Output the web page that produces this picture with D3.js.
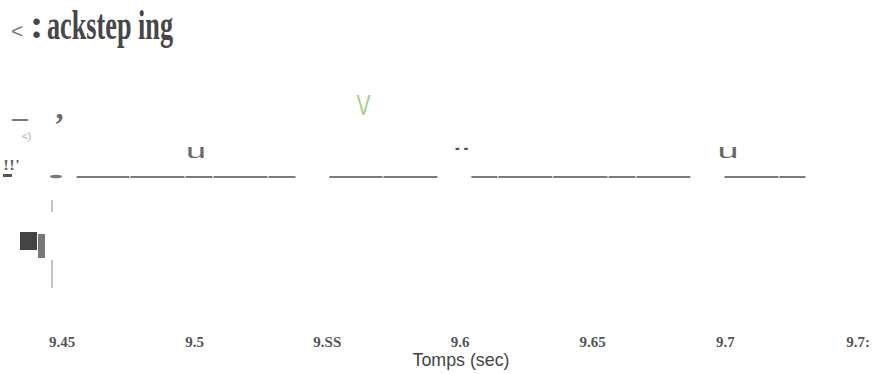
<!DOCTYPE html>
<html>
<head>
<meta charset="utf-8">
<script src="https://cdn.jsdelivr.net/npm/d3@7/dist/d3.min.js"></script>
<style>
  html, body { margin: 0; padding: 0; background: #fff; }
  svg { display: block; }
</style>
</head>
<body>
<svg id="chart" width="874" height="374"></svg>
<script>
// Time ticks along the bottom axis (seconds) and their printed labels
const tickValues = [9.45, 9.5, 9.55, 9.6, 9.65, 9.7, 9.75];
const tickLabels = ["9.45", "9.5", "9.SS", "9.6", "9.65", "9.7", "9.7:"];

// Signal trace: runs of constant level, each run split into short pieces
const traceRuns = [
  [9.4553, 9.4756, 9.4964, 9.5069, 9.5276, 9.5382],
  [9.5506, 9.5710, 9.5917],
  [9.6041, 9.6143, 9.6350, 9.6558, 9.6663, 9.6870],
  [9.6995, 9.7202, 9.7304]
];
const traceLevel = 0.5;

// Short vertical axis pieces (level ranges)
const axisPieces = [[0.358, 0.407], [0.049, 0.163]];

// Glyph annotations above the trace: [time, level, text, colour, size, width]
const marks = [
  [9.5005, 0.577, "u", "#6a6a6a", 20, 20],
  [9.6008, 0.551, "\u00a8", "#555", 24, 15],
  [9.7010, 0.577, "u", "#6a6a6a", 20, 21],
  [9.5636, 0.752, "V", "#9fd487", 30, 14]
];

const svg = d3.select("#chart");
const x = d3.scaleLinear().domain([9.45, 9.75]).range([62, 858]);
const y = d3.scaleLinear().domain([0, 1]).range([300, 54]);

// Title
svg.append("text").attr("x", 11).attr("y", 38)
  .attr("font-family", "Liberation Sans, Arial, sans-serif")
  .attr("font-size", 21).attr("fill", "#777").text("<");
svg.append("text").attr("x", 30).attr("y", 38)
  .attr("font-family", "Liberation Serif, serif").attr("font-weight", "bold")
  .attr("font-size", 40).attr("fill", "#474747").text(":");
svg.append("text")
  .attr("x", 47).attr("y", 39)
  .attr("font-family", "Liberation Serif, serif").attr("font-weight", "bold")
  .attr("font-size", 43).attr("fill", "#474747")
  .attr("textLength", 126).attr("lengthAdjust", "spacingAndGlyphs")
  .text("ackstep ing");

// Trace pieces
const pieces = [];
traceRuns.forEach(run => {
  for (let i = 0; i < run.length - 1; i++) pieces.push([run[i], run[i + 1]]);
});
svg.append("g").selectAll("line").data(pieces).join("line")
  .attr("x1", d => x(d[0]) + 0.5).attr("x2", d => x(d[1]) - 0.5)
  .attr("y1", y(traceLevel)).attr("y2", y(traceLevel))
  .attr("stroke", "#7a7a7a").attr("stroke-width", 2);

// Vertical axis fragments
svg.append("g").selectAll("line").data(axisPieces).join("line")
  .attr("x1", 52).attr("x2", 52)
  .attr("y1", d => y(d[1])).attr("y2", d => y(d[0]))
  .attr("stroke", "#888").attr("stroke-width", 1);

// Glyph annotations
svg.append("g").selectAll("text").data(marks).join("text")
  .attr("x", d => x(d[0]) - d[5] / 2).attr("y", d => y(d[1]))
  .attr("font-family", "Liberation Sans, Arial, sans-serif")
  .attr("font-size", d => d[4])
  .attr("textLength", d => d[5]).attr("lengthAdjust", "spacingAndGlyphs")
  .attr("fill", d => d[3])
  .text(d => d[2]);

// Left-hand label fragments
const left = svg.append("g").attr("font-family", "Liberation Sans, Arial, sans-serif");
left.append("line").attr("x1", 12).attr("x2", 28).attr("y1", 120).attr("y2", 120)
  .attr("stroke", "#777").attr("stroke-width", 2);
left.append("text").attr("x", 54).attr("y", 135)
  .attr("font-family", "Liberation Serif, serif").attr("font-weight", "bold")
  .attr("font-size", 32).attr("fill", "#6a6a6a").text("\u2019");
left.append("text").attr("x", 22).attr("y", 140)
  .attr("font-size", 10).attr("fill", "#aaa").text("<)");
left.append("text").attr("x", 3).attr("y", 170)
  .attr("font-family", "Liberation Serif, serif").attr("font-weight", "bold")
  .attr("font-size", 15).attr("fill", "#666")
  .attr("textLength", 17).attr("lengthAdjust", "spacingAndGlyphs").text("!!'");
left.append("rect").attr("x", 3).attr("y", 174).attr("width", 9).attr("height", 3)
  .attr("fill", "#555");
left.append("ellipse").attr("cx", 56).attr("cy", 176.5).attr("rx", 6).attr("ry", 1.8)
  .attr("fill", "#777");
left.append("rect").attr("x", 20).attr("y", 232).attr("width", 17).attr("height", 18)
  .attr("fill", "#444");
left.append("rect").attr("x", 38).attr("y", 234).attr("width", 7).attr("height", 24)
  .attr("fill", "#777");

// Bottom tick labels
svg.append("g").selectAll("text").data(tickValues).join("text")
  .attr("x", d => x(d)).attr("y", 347)
  .attr("text-anchor", "middle")
  .attr("font-family", "Liberation Serif, serif").attr("font-weight", "bold")
  .attr("font-size", 15).attr("fill", "#555")
  .text((d, i) => tickLabels[i]);

// Axis title
svg.append("text")
  .attr("x", 461).attr("y", 366)
  .attr("text-anchor", "middle")
  .attr("font-family", "Liberation Sans, Arial, sans-serif")
  .attr("font-size", 19).attr("fill", "#444")
  .attr("textLength", 97).attr("lengthAdjust", "spacingAndGlyphs")
  .text("Tomps (sec)");
</script>
</body>
</html>
